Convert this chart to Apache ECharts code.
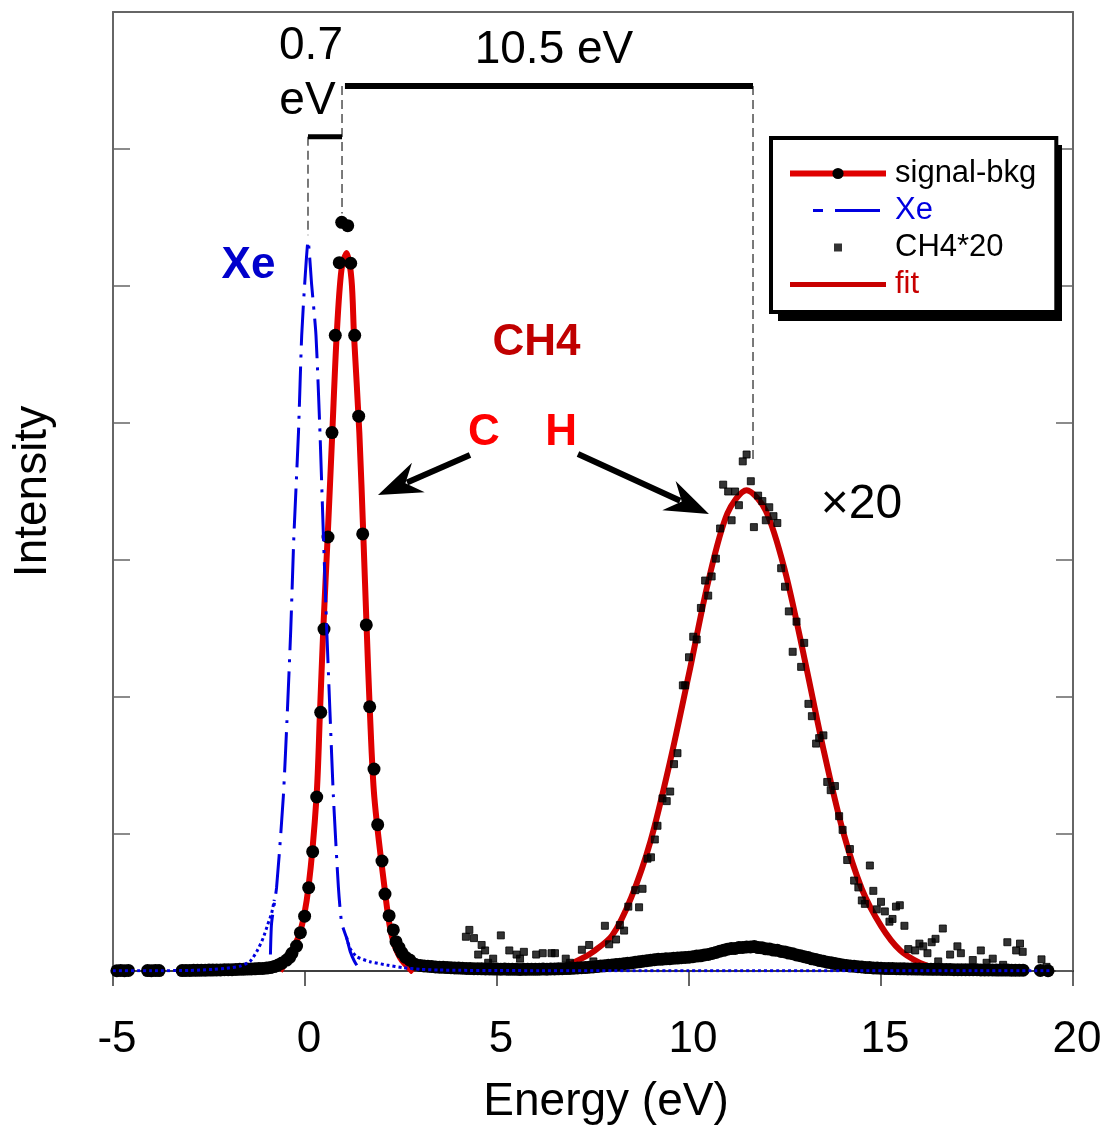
<!DOCTYPE html>
<html><head><meta charset="utf-8">
<script src="https://cdn.jsdelivr.net/npm/echarts@6/dist/echarts.min.js"></script>
<style>html,body{margin:0;padding:0;background:#fff}#c{width:1111px;height:1128px}</style>
</head><body><div id="c"></div>
<script>
const FONT = "'Liberation Sans', Arial, Helvetica, sans-serif";

// ---------- data ----------
const xRange = [-5, 20];
const yRange = [0, 7];
const xInterval = 5;

// signal-bkg: baseline clusters on uniform energy grids (start, step, values)
const sigSeg1 = {start: -4.9, step: 0.1, y: [0.002, 0.004, 0.002, 0.004]};
const sigSeg2 = {start: -4.1, step: 0.1, y: [0.003, 0.002, 0.004, 0.003]};
const sigSeg3 = {start: -3.2, step: 0.1, y: [
  0.003,0.004,0.004,0.005,0.005,0.006,0.006,0.007,0.007,0.008,
  0.008,0.009,0.010,0.010,0.011,0.012,0.013,0.014,0.015,0.016,
  0.018,0.019,0.021]};
const sigPeak = [
  [-0.9,0.025],[-0.8,0.032],[-0.7,0.044],[-0.6,0.058],[-0.48,0.08],[-0.4,0.10],[-0.34,0.129],
  [-0.22,0.182],[-0.12,0.28],[-0.01,0.40],[0.096,0.608],[0.2,0.871],[0.305,1.27],[0.409,1.888],
  [0.495,2.496],[0.599,3.168],[0.703,3.93],[0.789,4.64],[0.893,5.17],[0.956,5.465],[1.112,5.44],
  [1.19,5.166],[1.294,4.64],[1.398,4.05],[1.503,3.19],[1.596,2.526],[1.685,1.929],[1.797,1.474],
  [1.893,1.068],[2.005,0.803],[2.083,0.562],[2.19,0.404],[2.3,0.30],[2.37,0.214],[2.45,0.17],
  [2.52,0.134],[2.62,0.10],[2.73,0.08],[2.86,0.05]];
const sigSeg4 = {start: 3.0, step: 0.1, y: [
  0.040,0.037,0.035,0.032,0.030,0.028,0.027,0.025,0.024,0.022,
  0.021,0.020,0.019,0.018,0.017,0.017,0.016,0.015,0.015,0.014,
  0.014,0.013,0.014,0.012,0.013,0.012,0.011,0.012,0.012,0.013,
  0.012,0.013,0.014,0.013,0.015,0.015,0.016,0.017,0.018,0.019,
  0.020,0.022,0.024,0.025,0.028,0.030,0.032,0.036,0.038,0.042,
  0.044,0.047,0.049,0.053,0.056,0.059,0.064,0.067,0.072,0.075,
  0.079,0.082,0.085,0.086,0.089,0.090,0.093,0.094,0.097,0.099,
  0.101,0.104,0.109,0.111,0.117,0.121,0.128,0.135,0.145,0.151,
  0.159,0.164,0.165,0.171,0.172,0.176,0.175,0.178,0.171,0.169,
  0.162,0.160,0.153,0.151,0.143,0.139,0.131,0.126,0.117,0.112,
  0.104,0.098,0.089,0.084,0.076,0.071,0.064,0.061,0.054,0.050,
  0.044,0.041,0.036,0.035,0.031,0.029,0.026,0.025,0.022,0.021,
  0.020,0.019,0.018,0.018,0.017,0.016,0.016,0.015,0.015,0.014,
  0.014,0.013,0.013,0.012,0.012,0.012,0.011,0.011,0.011,0.010,
  0.010,0.010,0.009,0.009,0.009,0.009,0.008,0.008,0.008,0.008,
  0.007,0.007,0.007,0.007,0.006,0.006,0.006,0.006]};
const sigEnd = [[19.15,0.004],[19.35,0.002]];

// CH4*20 squares
const ch4x20 = [
  [4.19,0.25],[4.28,0.30],[4.40,0.24],[4.51,0.12],[4.60,0.19],[4.69,0.15],[4.77,0.06],[4.90,0.09],
  [5.10,0.26],[5.32,0.15],[5.51,0.12],[5.60,0.09],[5.70,0.14],[6.02,0.12],[6.19,0.13],[6.42,0.13],
  [6.51,0.13],[6.79,0.09],[6.90,0.06],[7.21,0.155],[7.40,0.19],[7.51,0.07],[7.81,0.33],[7.92,0.195],
  [8.10,0.23],[8.20,0.335],[8.31,0.295],[8.42,0.47],[8.60,0.59],[8.70,0.465],[8.79,0.60],[8.92,0.82],
  [9.01,0.83],[9.11,0.96],[9.18,1.06],[9.31,1.26],[9.42,1.24],[9.51,1.31],[9.61,1.51],[9.70,1.59],
  [9.84,2.085],[9.90,2.085],[10.0,2.29],[10.11,2.44],[10.20,2.42],[10.31,2.65],[10.42,2.85],[10.50,2.74],
  [10.59,2.88],[10.70,3.01],[10.81,3.23],[10.89,3.55],[11.02,3.50],[11.11,3.29],[11.20,3.50],[11.30,3.40],
  [11.40,3.72],[11.50,3.77],[11.61,3.575],[11.69,3.24],[11.80,3.47],[11.91,3.43],[12.0,3.29],[12.09,3.385],
  [12.2,3.32],[12.3,3.27],[12.40,2.94],[12.50,2.805],[12.60,2.625],[12.70,2.33],[12.80,2.55],[12.92,2.22],
  [13.0,2.395],[13.11,1.95],[13.20,1.86],[13.31,1.66],[13.39,1.70],[13.50,1.72],[13.60,1.38],[13.69,1.32],
  [13.80,1.35],[13.91,1.13],[14.0,1.03],[14.12,0.81],[14.19,0.89],[14.30,0.66],[14.41,0.61],[14.50,0.515],
  [14.58,0.49],[14.71,0.77],[14.80,0.585],[14.89,0.45],[15.0,0.505],[15.10,0.435],[15.22,0.36],[15.30,0.38],
  [15.39,0.47],[15.49,0.48],[15.61,0.33],[15.71,0.16],[15.89,0.15],[16.0,0.20],[16.10,0.18],[16.21,0.13],
  [16.32,0.21],[16.42,0.235],[16.49,0.07],[16.61,0.31],[16.80,0.12],[16.99,0.18],[17.08,0.13],[17.39,0.08],
  [17.60,0.15],[17.75,0.06],[17.91,0.09],[18.18,0.045],[18.29,0.21],[18.52,0.15],[18.62,0.20],[18.69,0.14],
  [19.18,0.085],[19.31,0.03]];

// fit of the C peak (bright red) and of the H peak (dark red, "fit")
const fitC = [
  [-0.65,0.0],[-0.43,0.10],[-0.13,0.28],[0.09,0.61],[0.30,1.27],[0.39,1.89],[0.477,2.5],[0.59,3.17],
  [0.711,3.93],[0.825,4.64],[0.95,5.12],[1.085,5.24],[1.21,5.05],[1.276,4.64],[1.415,3.93],[1.52,3.17],
  [1.606,2.5],[1.69,1.89],[1.805,1.27],[2.07,0.61],[2.24,0.28],[2.47,0.10],[2.82,-0.01]];
const fitH = [
  [6.9,0.05],[7.2,0.09],[7.5,0.14],[8.0,0.26],[8.5,0.54],[9.0,0.95],[9.5,1.52],[10.0,2.17],[10.5,2.84],
  [11.0,3.34],[11.5,3.51],[12.0,3.36],[12.5,2.92],[13.0,2.29],[13.5,1.62],[14.0,1.03],[14.5,0.60],
  [15.0,0.33],[15.5,0.15],[16.0,0.06],[16.4,0.02]];

// Xe reference peak (dash-dot) and its dotted tails
const xePeak = [
  [-0.9,0.12],[-0.87,0.35],[-0.74,0.61],[-0.565,1.27],[-0.46,1.89],[-0.37,2.5],[-0.29,3.17],[-0.17,3.93],
  [-0.086,4.64],[0.0,5.05],[0.08,5.33],[0.17,5.02],[0.286,4.64],[0.39,3.93],[0.48,3.17],[0.565,2.5],
  [0.65,1.89],[0.74,1.27],[0.87,0.61],[0.955,0.35],[1.085,0.24],[1.18,0.14],[1.28,0.075],[1.38,0.03],[1.48,0.005]];
const xeTailLeft = [
  [-5.0,0.002],[-4.0,0.002],[-3.0,0.004],[-2.73,0.007],[-2.4,0.012],[-2.04,0.02],[-1.69,0.036],
  [-1.43,0.07],[-1.26,0.14],[-1.09,0.24],[-0.97,0.34],[-0.87,0.42],[-0.8,0.52]];
const xeTailRight = [
  [1.08,0.25],[1.17,0.166],[1.35,0.104],[1.69,0.068],[2.13,0.044],[2.56,0.024],[3.0,0.012],
  [3.5,0.007],[4.0,0.005],[5.0,0.003],[10.0,0.002],[19.4,0.002]];

// ---------- build ----------
function seg(s){ return s.y.map((v,i)=>[+(s.start + i*s.step).toFixed(3), v]); }
const signalBkg = [].concat(seg(sigSeg1), seg(sigSeg2), seg(sigSeg3), sigPeak, seg(sigSeg4), sigEnd);
const xeTail = [].concat(xeTailLeft, ['-'], xeTailRight);

const RED = '#e00000', DRED = '#c80000', BLUE = '#0000e0';
const borderStyle = {color:'#666', width:2};

const chart = echarts.init(document.getElementById('c'));
const option = {
  animation:false,
  backgroundColor:'#fff',
  grid:{left:113, right:38, top:12, bottom:157, outerBoundsMode:'none', containLabel:false},
  xAxis:[
    {type:'value', position:'bottom', min:xRange[0], max:xRange[1], interval:xInterval,
     axisLine:{show:true, onZero:false, lineStyle:{color:'#000', width:1.5}},
     axisTick:{show:true, inside:false, length:15, lineStyle:{color:'#333', width:1.5}},
     axisLabel:{show:true, margin:47, fontSize:44, color:'#000', fontFamily:FONT, padding:[0,0,0,8]},
     splitLine:{show:false},
     name:'Energy (eV)', nameLocation:'middle', nameGap:108,
     nameTextStyle:{fontSize:46, color:'#000', fontFamily:FONT, padding:[0,0,0,26]}},
    {type:'value', position:'top', min:xRange[0], max:xRange[1], interval:xInterval,
     axisLine:{show:true, onZero:false, lineStyle:borderStyle},
     axisTick:{show:false}, axisLabel:{show:false}, splitLine:{show:false}}
  ],
  yAxis:[
    {type:'value', position:'left', min:yRange[0], max:yRange[1], interval:1,
     axisLine:{show:true, onZero:false, lineStyle:borderStyle},
     axisTick:{show:true, inside:true, length:17, lineStyle:{color:'#666', width:1.5}},
     axisLabel:{show:false}, splitLine:{show:false},
     name:'Intensity', nameLocation:'middle', nameGap:57,
     nameTextStyle:{fontSize:46, color:'#000', fontFamily:FONT}},
    {type:'value', position:'right', min:yRange[0], max:yRange[1], interval:1,
     axisLine:{show:true, onZero:false, lineStyle:borderStyle},
     axisTick:{show:true, inside:true, length:17, lineStyle:{color:'#666', width:1.5}},
     axisLabel:{show:false}, splitLine:{show:false}}
  ],
  legend:{
    orient:'vertical', left:771, top:138, padding:[20,20,12,16],
    itemWidth:96, itemHeight:14, itemGap:6,
    backgroundColor:'#fff', borderColor:'#000', borderWidth:4, borderRadius:0,
    selectedMode:false, z:10,
    textStyle:{fontFamily:FONT, fontSize:31, lineHeight:31, color:'#000', padding:[0,0,0,4]},
    data:[
      {name:'signal-bkg', lineStyle:{width:6, color:RED, type:'solid', opacity:1}, itemStyle:{color:'#000', opacity:1}},
      {name:'Xe', lineStyle:{width:3, color:BLUE, type:[0,23,10,12,45,30]}, itemStyle:{opacity:0}, textStyle:{color:BLUE}},
      {name:'CH4*20', icon:'path://M0,0L0.01,0L0,0.01Z M96,14L95.99,14L96,13.99Z M44,3L52,3L52,11L44,11Z', itemStyle:{color:'#000', borderWidth:0, borderColor:'transparent'}},
      {name:'fit', lineStyle:{width:5, color:DRED, type:'solid'}, itemStyle:{opacity:0}, textStyle:{color:DRED}}
    ]
  },
  series:[
    {name:'fit C', type:'line', data:fitC, smooth:0.3, symbol:'none', z:2,
     lineStyle:{color:RED, width:6}, itemStyle:{color:RED}, silent:true},
    {name:'fit', type:'line', data:fitH, smooth:0.3, symbol:'none', z:2,
     lineStyle:{color:DRED, width:6}, itemStyle:{color:DRED}, silent:true},
    {name:'signal-bkg', type:'line', data:signalBkg, symbol:'circle', symbolSize:13, showAllSymbol:true, z:3,
     itemStyle:{color:'#000'}, lineStyle:{color:RED, width:0}, silent:true},
    {name:'CH4*20', type:'scatter', data:ch4x20, symbol:'rect', symbolSize:7, z:4,
     itemStyle:{color:'#000', borderColor:'#000', borderWidth:1}, silent:true},
    {name:'Xe', type:'line', data:xePeak, smooth:0.2, symbol:'none', z:5,
     lineStyle:{color:BLUE, width:3, type:[40,9,3,9]}, itemStyle:{color:BLUE}, silent:true},
    {name:'Xe tail', type:'line', data:xeTail, connectNulls:false, smooth:0.2, symbol:'none', z:5,
     lineStyle:{color:BLUE, width:3, type:[3,3]}, itemStyle:{color:BLUE}, silent:true}
  ]
};
chart.setOption(option);

// ---------- annotations (anchored in data coordinates) ----------
const P = (x,y) => chart.convertToPixel({xAxisIndex:0, yAxisIndex:0}, [x,y]);
const bars = [ {x1:0.078, x2:0.964, y:6.09, w:5}, {x1:1.04, x2:11.667, y:6.46, w:6} ];
const dashes = [ {x:0.078, y1:6.09, y2:5.37}, {x:0.964, y1:6.46, y2:5.53}, {x:11.667, y1:6.46, y2:3.72} ];
const labels = [
  {t:'0.7', x:0.156, y:6.752, c:'#000', f:'46px'},
  {t:'eV', x:0.065, y:6.350, c:'#000', f:'46px'},
  {t:'10.5 eV', x:6.484, y:6.723, c:'#000', f:'46px'},
  {t:'Xe', x:-1.471, y:5.146, c:'#0000cc', f:'bold 44px'},
  {t:'CH4', x:6.029, y:4.584, c:'#c00000', f:'bold 44px'},
  {t:'C', x:4.661, y:3.927, c:'#ff0000', f:'bold 44px'},
  {t:'H', x:6.667, y:3.927, c:'#ff0000', f:'bold 44px'},
  {t:'\u00d720', x:14.49, y:3.401, c:'#000', f:'48px'}
];
const arrows = [ {tail:[4.297,3.766], tip:[1.901,3.474]}, {tail:[7.109,3.774], tip:[10.52,3.336]} ];

const g = [];
// legend drop shadow (solid, offset down-right), drawn beneath the legend box
g.push({type:'rect', z:9, shape:{x:778, y:145, width:284, height:176}, style:{fill:'#000'}});
bars.forEach(b => { const a=P(b.x1,b.y), c=P(b.x2,b.y);
  g.push({type:'line', z:100, shape:{x1:a[0],y1:a[1],x2:c[0],y2:c[1]}, style:{stroke:'#000', lineWidth:b.w}}); });
dashes.forEach(d => { const a=P(d.x,d.y1), c=P(d.x,d.y2);
  g.push({type:'line', z:99, shape:{x1:a[0],y1:a[1],x2:c[0],y2:c[1]}, style:{stroke:'#333', lineWidth:1.3, lineDash:[9,5]}}); });
labels.forEach(l => { const p=P(l.x,l.y);
  g.push({type:'text', z:100, x:p[0], y:p[1], style:{text:l.t, fill:l.c, font:l.f+' '+FONT, align:'center', verticalAlign:'middle'}}); });
arrows.forEach(ar => {
  const tail=P(ar.tail[0],ar.tail[1]), tip=P(ar.tip[0],ar.tip[1]);
  const dx=tail[0]-tip[0], dy=tail[1]-tip[1], d=Math.hypot(dx,dy), ux=dx/d, uy=dy/d, nx=-uy, ny=ux;
  const L=44, W=16;
  const base=[tip[0]+ux*L*0.72, tip[1]+uy*L*0.72];
  g.push({type:'line', z:100, shape:{x1:tail[0],y1:tail[1],x2:base[0],y2:base[1]}, style:{stroke:'#000', lineWidth:6}});
  g.push({type:'polygon', z:100, shape:{points:[tip,[tip[0]+ux*L+nx*W, tip[1]+uy*L+ny*W], [tip[0]+ux*L*0.68, tip[1]+uy*L*0.68], [tip[0]+ux*L-nx*W, tip[1]+uy*L-ny*W]]}, style:{fill:'#000'}});
});
chart.setOption({graphic:g});
</script>
</body></html>
